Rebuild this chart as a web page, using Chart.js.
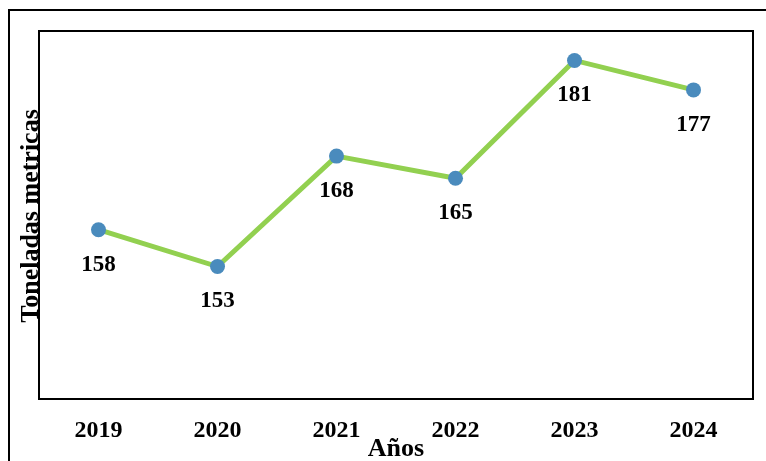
<!DOCTYPE html>
<html>
<head>
<meta charset="utf-8">
<script src="https://cdn.jsdelivr.net/npm/chart.js@4"></script>
<style>
  html, body { margin: 0; padding: 0; background: #fff; overflow: hidden; }
  #wrap { position: relative; width: 766px; height: 461px; }
  #frame { position: absolute; left: 8px; top: 9px; width: 800px; height: 500px; border: 2px solid #000; }
  canvas { position: absolute; left: 0; top: 0; }
</style>
</head>
<body>
<div id="wrap">
  <div id="frame"></div>
  <canvas id="chart" width="766" height="461"></canvas>
</div>
<script>
// años y toneladas
const years = ["2019", "2020", "2021", "2022", "2023", "2024"];
const tonnes = [158, 153, 168, 165, 181, 177];

const serif = "'Liberation Serif', 'Times New Roman', serif";

// marco del área de trazado + etiquetas bajo cada punto + títulos
const decor = {
    id: "decor",
    afterDatasetsDraw(chart) {
        const { ctx, chartArea: a } = chart;
        ctx.save();
        ctx.strokeStyle = "#000";
        ctx.lineWidth = 2;
        ctx.strokeRect(a.left, a.top, a.right - a.left, a.bottom - a.top);

        ctx.fillStyle = "#000";
        ctx.font = "bold 23px " + serif;
        ctx.textAlign = "center";
        ctx.textBaseline = "middle";
        chart.getDatasetMeta(0).data.forEach((pt, i) => {
            ctx.fillText(tonnes[i], pt.x, pt.y + 35);
        });

        ctx.font = "bold 26px " + serif;
        ctx.fillText("Años", 396, 449);

        ctx.textBaseline = "alphabetic";
        ctx.translate(38, 216);
        ctx.rotate(-Math.PI / 2);
        ctx.fillText("Toneladas metricas", 0, 0);
        ctx.restore();
    }
};

new Chart(document.getElementById("chart"), {
    type: "line",
    data: {
        labels: years,
        datasets: [{
            data: tonnes,
            borderColor: "#92D050",
            borderWidth: 5,
            pointRadius: 7.5,
            pointBackgroundColor: "#4A8BBD",
            pointBorderWidth: 0,
            tension: 0
        }]
    },
    options: {
        responsive: false,
        animation: false,
        layout: { padding: { left: 39, top: 31, right: 13, bottom: 0 } },
        plugins: { legend: { display: false }, tooltip: { enabled: false } },
        scales: {
            x: {
                offset: true,
                grid: { display: false, drawTicks: false },
                border: { display: false },
                ticks: { color: "#000", padding: 17, font: { family: serif, size: 24, weight: "bold" } },
                afterFit(scale) { scale.height = 62; }
            },
            y: {
                display: false,
                min: 135,
                max: 185
            }
        }
    },
    plugins: [decor]
});
</script>
</body>
</html>
